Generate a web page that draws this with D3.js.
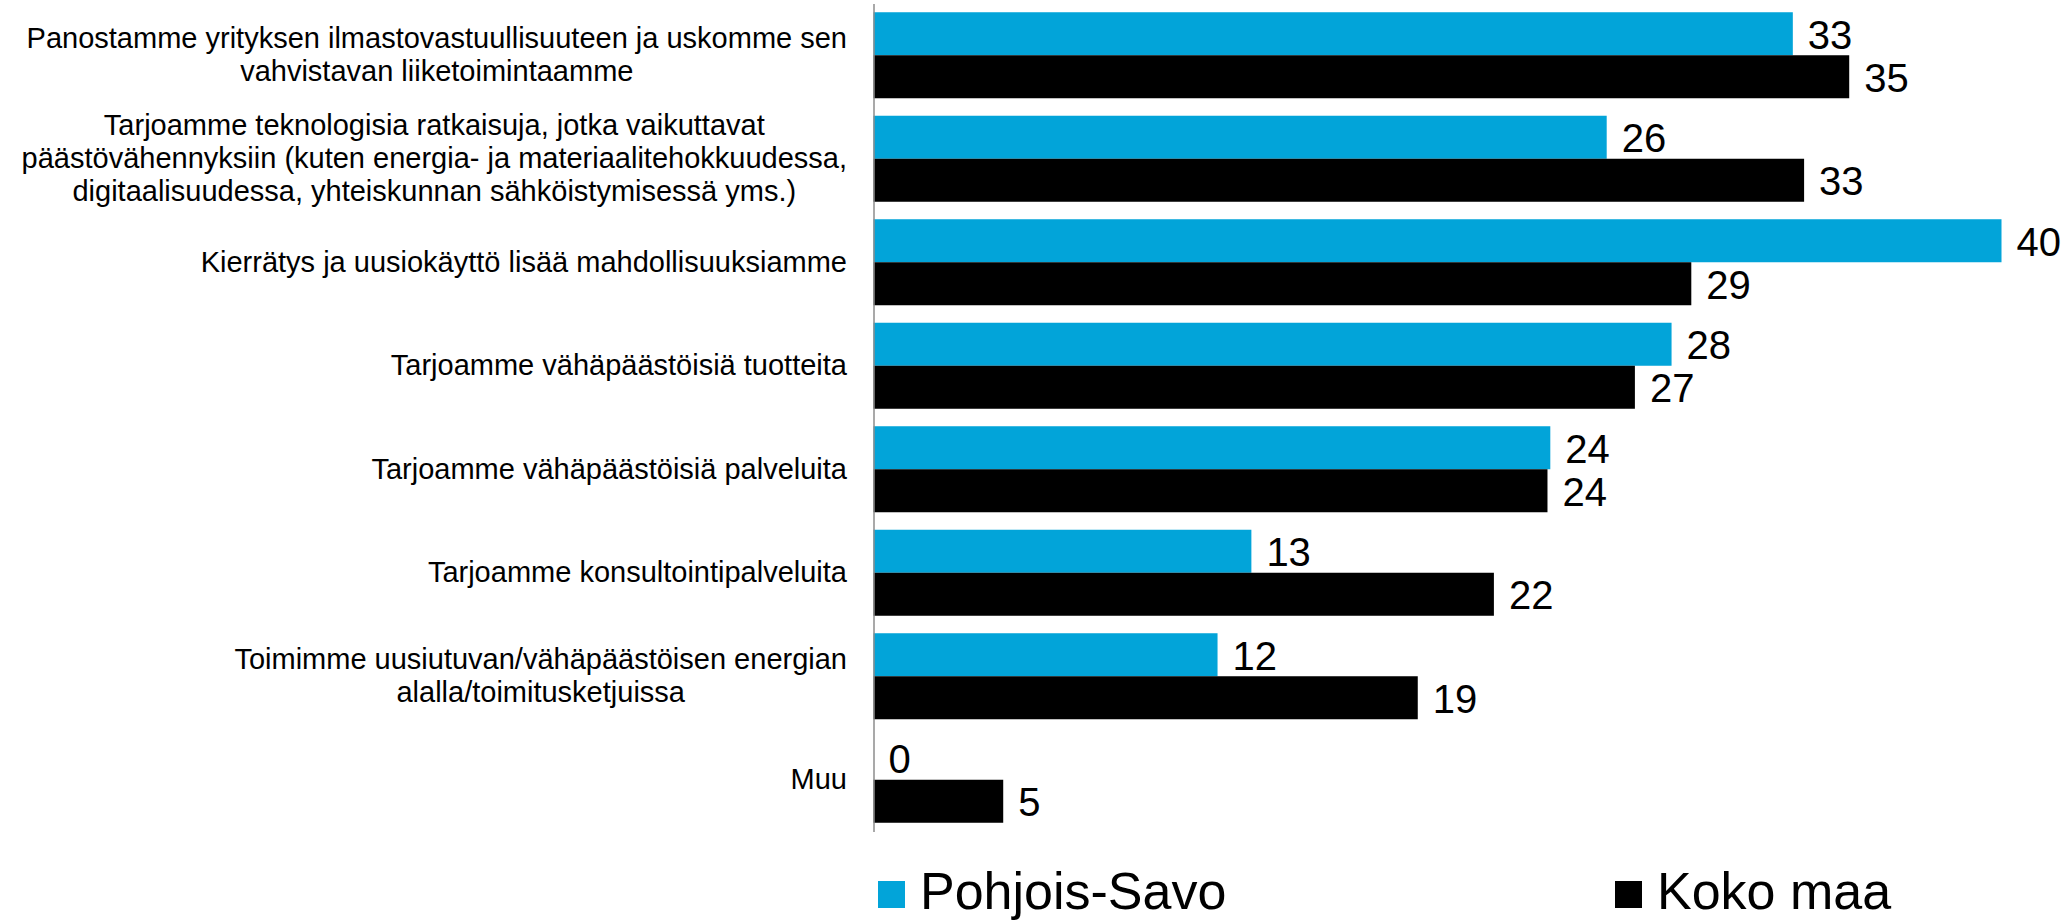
<!DOCTYPE html>
<html>
<head>
    <meta charset="utf-8">
    <title>ilmasto-mahdollisuudet</title>
    <style>
/* Whole page is the chart, no scrollbars */
body { margin: 0; background: #fff; font-family: "Liberation Sans", Arial, sans-serif; }
.barCyan { fill: #02a4d9; }
.barBlack { fill: #000; }
.catLabel { font-size: 29px; fill: #000; }
.valLabel { font-size: 40px; fill: #000; }
.legendText { font-size: 52px; fill: #000; }
    </style>
</head>
<body>
<script src="https://cdn.jsdelivr.net/npm/d3@7"></script>
<script>
/* Categories, each split into the lines shown in the picture */
var categories = [
    ["Panostamme yrityksen ilmastovastuullisuuteen ja uskomme sen", "vahvistavan liiketoimintaamme"],
    ["Tarjoamme teknologisia ratkaisuja, jotka vaikuttavat", "päästövähennyksiin (kuten energia- ja materiaalitehokkuudessa,", "digitaalisuudessa, yhteiskunnan sähköistymisessä yms.)"],
    ["Kierrätys ja uusiokäyttö lisää mahdollisuuksiamme"],
    ["Tarjoamme vähäpäästöisiä tuotteita"],
    ["Tarjoamme vähäpäästöisiä palveluita"],
    ["Tarjoamme konsultointipalveluita"],
    ["Toimimme uusiutuvan/vähäpäästöisen energian", "alalla/toimitusketjuissa"],
    ["Muu"]
];

var seriesNames = ["Pohjois-Savo", "Koko maa"];

/* Percent values (labels show them rounded) */
var pohjoisSavo = [32.6, 26.0, 40.0, 28.3, 24.0, 13.4, 12.2, 0];
var kokoMaa     = [34.6, 33.0, 29.0, 27.0, 23.9, 22.0, 19.3, 4.6];

var totalWidth = 2072, totalHeight = 921;

var svg = d3.select("body").append("svg")
    .attr("width", totalWidth)
    .attr("height", totalHeight);

var rows = categories.map(function (c, i) {
    return { id: i, lines: c, values: [pohjoisSavo[i], kokoMaa[i]] };
});

/* x: value scale, starts at the axis line */
var x = d3.scaleLinear()
    .domain([0, 40])
    .range([873.5, 2001.5]);

/* y: one band per category, then one sub band per series */
var y = d3.scaleBand()
    .domain(rows.map(function (d) { return d.id; }))
    .range([3.5, 831.5])
    .paddingInner(0.169)
    .paddingOuter(0.0845);

var ySub = d3.scaleBand()
    .domain([0, 1])
    .range([0, y.bandwidth()]);

var colors = ["barCyan", "barBlack"];

var groups = svg.selectAll(".group")
    .data(rows)
    .enter()
    .append("g")
    .attr("class", "group")
    .attr("transform", function (d) { return "translate(0," + y(d.id) + ")"; });

var bars = groups.selectAll(".bar")
    .data(function (d) { return d.values.map(function (v, s) { return { s: s, v: v }; }); })
    .enter();

bars.append("rect")
    .attr("class", function (d) { return colors[d.s]; })
    .attr("x", x(0))
    .attr("y", function (d) { return ySub(d.s); })
    .attr("width", function (d) { return x(d.v) - x(0); })
    .attr("height", ySub.bandwidth());

/* value labels just right of each bar end */
bars.append("text")
    .attr("class", "valLabel")
    .attr("x", function (d) { return x(d.v) + 15; })
    .attr("y", function (d) { return ySub(d.s) + ySub.bandwidth() / 2; })
    .attr("dy", "0.37em")
    .text(function (d) { return d3.format(".0f")(d.v); });

/* Left axis: only the gray domain line stays, labels are rebuilt as tspans */
var axis = svg.append("g")
    .attr("transform", "translate(873.5,0)")
    .call(d3.axisLeft(y).tickSize(0).tickSizeOuter(0).tickFormat(""));

axis.select(".domain")
    .attr("stroke", "#8c8c8c")
    .attr("stroke-width", 1.5);

/* category labels: block right aligned at x=847, lines centred inside the block */
var lineGap = 33;
rows.forEach(function (d) {
    var cy = y(d.id) + y.bandwidth() / 2;
    var t = svg.append("text")
        .attr("class", "catLabel")
        .attr("text-anchor", "middle");
    var n = d.lines.length;
    d.lines.forEach(function (line, j) {
        t.append("tspan")
            .attr("y", cy + (j - (n - 1) / 2) * lineGap)
            .attr("dy", "0.32em")
            .text(line);
    });
    var maxW = 0;
    t.selectAll("tspan").each(function () {
        maxW = Math.max(maxW, this.getComputedTextLength());
    });
    t.selectAll("tspan").attr("x", 847 - maxW / 2);
});

/* Legend at the bottom */
var legendX = [878, 1615];
var legend = svg.selectAll(".legendItem")
    .data(seriesNames)
    .enter()
    .append("g")
    .attr("class", "legendItem")
    .attr("transform", function (d, i) { return "translate(" + legendX[i] + ",881)"; });

legend.append("rect")
    .attr("class", function (d, i) { return colors[i]; })
    .attr("width", 27)
    .attr("height", 27);

legend.append("text")
    .attr("class", "legendText")
    .attr("x", 42)
    .attr("y", 28)
    .text(function (d) { return d; });
</script>
</body>
</html>
